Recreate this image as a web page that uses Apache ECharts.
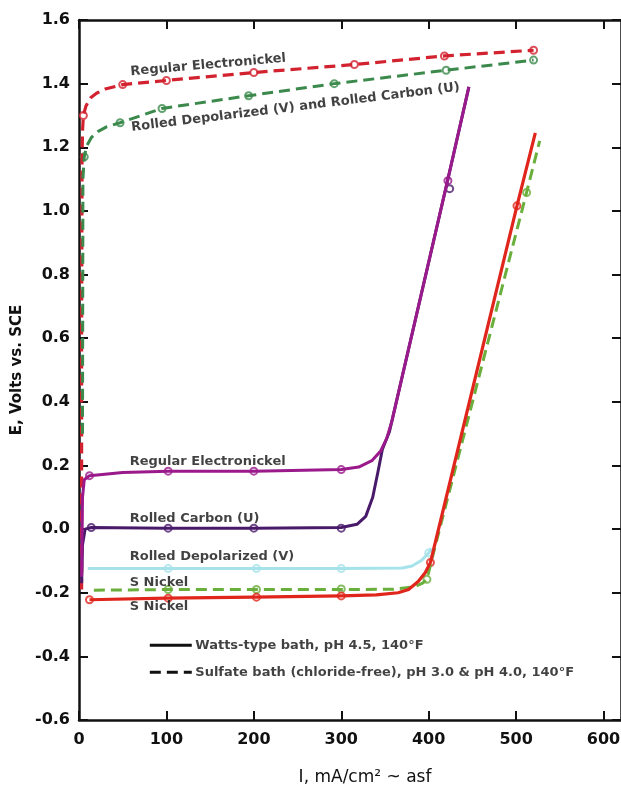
<!DOCTYPE html>
<html>
<head>
<meta charset="utf-8">
<script src="https://cdn.jsdelivr.net/npm/echarts@6/dist/echarts.min.js"></script>
<style>html,body{margin:0;padding:0;background:#fff;}#c{width:621px;height:786px;}</style>
</head>
<body>
<div id="c"></div>
<script>
// ---- axis ticks ----
const xTicks = [0, 100, 200, 300, 400, 500, 600];
const yTicks = [-0.6, -0.4, -0.2, 0.0, 0.2, 0.4, 0.6, 0.8, 1.0, 1.2, 1.4, 1.6];

// ---- sulfate bath (dashed) ----
const regElecSulfateLine = [[3,-0.19],[3,0.6],[3.5,1.15],[4,1.25],[5,1.30],[8,1.33],[13,1.355],[20,1.37],[30,1.383],[50,1.397],[100,1.41],[200,1.435],[315,1.46],[418,1.487],[520,1.505]];
const regElecSulfateMarks = [[5,1.30],[50,1.397],[100,1.41],[200,1.435],[315,1.46],[418,1.487],[520,1.505]];
const rolledSulfateLine = [[4,0.3],[4.5,1.1],[6,1.17],[9,1.205],[14,1.23],[22,1.25],[32,1.265],[47,1.277],[95,1.322],[194,1.362],[292,1.40],[420,1.442],[520,1.474]];
const rolledSulfateMarks = [[6,1.17],[47,1.277],[95,1.322],[194,1.362],[292,1.40],[420,1.442],[520,1.474]];
const sNickelSulfateLine = [[17,-0.192],[100,-0.19],[200,-0.19],[300,-0.19],[360,-0.189],[383,-0.182],[393,-0.17],[398,-0.158],[405,-0.08],[512,1.058],[527,1.22]];
const sNickelSulfateMarks = [[102,-0.19],[203,-0.19],[300,-0.188],[398,-0.158],[512,1.058]];

// ---- Watts-type bath (solid) ----
const regElecWattsLine = [[3,-0.15],[4,0.1],[6,0.155],[12,0.168],[50,0.178],[102,0.182],[200,0.182],[300,0.187],[320,0.195],[335,0.215],[345,0.245],[352,0.285],[358,0.34],[422,1.1],[446,1.39]];
const regElecWattsMarks = [[12,0.168],[102,0.182],[200,0.182],[300,0.187],[422,1.095]];
const carbonWattsLine = [[3,-0.17],[4,-0.05],[7,0.0],[14,0.005],[100,0.003],[200,0.003],[300,0.005],[318,0.015],[328,0.04],[336,0.1],[342,0.18],[347,0.25],[355,0.305],[422,1.1],[446,1.39]];
const carbonWattsMarks = [[14,0.005],[102,0.003],[200,0.003],[300,0.003],[424,1.07]];
const depolWattsLine = [[10,-0.124],[100,-0.124],[200,-0.124],[300,-0.124],[370,-0.122],[381,-0.116],[392,-0.098],[400,-0.075],[403,-0.06]];
const depolWattsMarks = [[102,-0.124],[203,-0.124],[300,-0.124],[400,-0.075]];
const sNickelWattsLine = [[12,-0.222],[100,-0.217],[200,-0.214],[300,-0.21],[340,-0.207],[365,-0.2],[377,-0.19],[388,-0.165],[396,-0.137],[402,-0.105],[501,1.016],[522,1.245]];
const sNickelWattsMarks = [[12,-0.222],[102,-0.217],[203,-0.214],[300,-0.21],[402,-0.105],[501,1.016]];

// ---- annotations (text, anchor in data units, rotation) ----
const annoText = ['Regular Electronickel','Rolled Depolarized (V) and Rolled Carbon (U)','Regular Electronickel','Rolled Carbon (U)','Rolled Depolarized (V)','S Nickel','S Nickel','Watts-type bath, pH 4.5, 140°F','Sulfate bath (chloride-free), pH 3.0 & pH 4.0, 140°F'];
const annoX = [59, 60, 58, 58, 58, 58, 58, 133, 133];
const annoY = [1.437, 1.262, 0.212, 0.034, -0.088, -0.168, -0.245, -0.365, -0.45];
const annoRot = [5, 7, 0, 0, 0, 0, 0, 0, 0];
const legendSolid = [[81,-0.365],[129,-0.365]];
const legendDashed = [[81,-0.45],[129,-0.45]];

const FONT = 'DejaVu Sans';
function lineS(data, color, dashed, width){
  return {type:'line', data, symbol:'none', smooth:false, silent:true, animation:false,
    lineStyle:{color, width: width||3, type: dashed ? [11,6] : 'solid', cap:'butt', join:'round'}};
}
function markS(data, color){
  return {type:'scatter', data, symbol:'emptyCircle', symbolSize:7, silent:true, animation:false,
    itemStyle:{color, borderColor:color, borderWidth:1.6}};
}
const annoData = annoText.map((t,i)=>({value:[annoX[i],annoY[i]], label:{formatter:t, rotate:annoRot[i]}}));

const axisCommon = {
  axisLine:{show:true, onZero:false, lineStyle:{color:'#111', width:2.5}},
  axisTick:{show:true, inside:true, length:9, lineStyle:{color:'#111', width:2}},
  splitLine:{show:false}
};
const chart = echarts.init(document.getElementById('c'), null, {renderer:'canvas'});
chart.setOption({
  backgroundColor:'#fff',
  animation:false,
  grid:{left:79, right:0, top:20, bottom:66, containLabel:false, outerBoundsMode:'none'},
  xAxis:[
    Object.assign({}, axisCommon, {type:'value', position:'bottom', min:0, max:620,
      axisTick:Object.assign({}, axisCommon.axisTick, {customValues:xTicks}),
      axisLabel:{customValues:xTicks, fontFamily:FONT, fontWeight:'bold', fontSize:16, color:'#111', margin:12},
      name:'I, mA/cm² ~ asf', nameLocation:'middle', nameGap:49,
      nameTextStyle:{fontFamily:FONT, fontSize:17, color:'#111', padding:[0,0,0,30]}}),
    Object.assign({}, axisCommon, {type:'value', position:'top', min:0, max:620,
      axisTick:Object.assign({}, axisCommon.axisTick, {customValues:xTicks}),
      axisLabel:{show:false}})
  ],
  yAxis:[
    Object.assign({}, axisCommon, {type:'value', position:'left', min:-0.6, max:1.6,
      axisTick:Object.assign({}, axisCommon.axisTick, {customValues:yTicks}),
      axisLabel:{customValues:yTicks, formatter:v=>v.toFixed(1), fontFamily:FONT, fontWeight:'bold', fontSize:16, color:'#111', margin:9},
      name:'E, Volts vs. SCE', nameLocation:'middle', nameGap:46, nameRotate:90,
      nameTextStyle:{fontFamily:FONT, fontWeight:'bold', fontSize:15, color:'#111'}}),
    Object.assign({}, axisCommon, {type:'value', position:'right', min:-0.6, max:1.6,
      axisTick:Object.assign({}, axisCommon.axisTick, {customValues:yTicks}),
      axisLabel:{show:false}})
  ],
  series:[
    lineS(regElecSulfateLine, '#d3222f', true, 3.2),
    markS(regElecSulfateMarks, '#d3222f'),
    lineS(rolledSulfateLine, '#3b8a4c', true, 3),
    markS(rolledSulfateMarks, '#3b8a4c'),
    lineS(depolWattsLine, '#a6e2ea', false, 3),
    markS(depolWattsMarks, '#a6e2ea'),
    lineS(sNickelSulfateLine, '#6aae3c', true, 3),
    markS(sNickelSulfateMarks, '#6aae3c'),
    lineS(sNickelWattsLine, '#e0261c', false, 3.2),
    markS(sNickelWattsMarks, '#e0261c'),
    lineS(carbonWattsLine, '#4a1a6a', false, 3),
    markS(carbonWattsMarks, '#4a1a6a'),
    lineS(regElecWattsLine, '#9a1a8c', false, 3),
    markS(regElecWattsMarks, '#9a1a8c'),
    lineS(legendSolid, '#111', false, 3),
    lineS(legendDashed, '#111', true, 3),
    {type:'scatter', data:annoData, symbol:'circle', symbolSize:0, silent:true, animation:false,
      label:{show:true, position:'right', distance:0, fontFamily:FONT, fontWeight:'bold', fontSize:13, color:'#111'}}
  ]
});
</script>
</body>
</html>
